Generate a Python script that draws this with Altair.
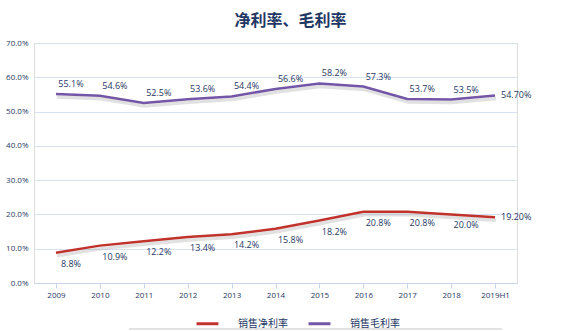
import altair as alt
import pandas as pd

years = ["2009", "2010", "2011", "2012", "2013", "2014", "2015", "2016", "2017", "2018", "2019H1"]
net_margin = [8.8, 10.9, 12.2, 13.4, 14.2, 15.8, 18.2, 20.8, 20.8, 20.0, 19.2]
gross_margin = [55.1, 54.6, 52.5, 53.6, 54.4, 56.6, 58.2, 57.3, 53.7, 53.5, 54.7]
net_labels = ["8.8%", "10.9%", "12.2%", "13.4%", "14.2%", "15.8%", "18.2%", "20.8%", "20.8%", "20.0%", "19.20%"]
gross_labels = ["55.1%", "54.6%", "52.5%", "53.6%", "54.4%", "56.6%", "58.2%", "57.3%", "53.7%", "53.5%", "54.70%"]
series_names = ["销售净利率", "销售毛利率"]
series_colors = ["#c0322c", "#7356a6"]

rows = []
for i, y in enumerate(years):
    rows.append({"year": y, "series": series_names[0], "value": net_margin[i] / 100,
                 "label": net_labels[i], "pos": "last" if i == len(years) - 1 else "below"})
    rows.append({"year": y, "series": series_names[1], "value": gross_margin[i] / 100,
                 "label": gross_labels[i], "pos": "last" if i == len(years) - 1 else "above"})
df = pd.DataFrame(rows)

TXT = "#1f3864"
FONT = "Open Sans"

x_enc = alt.X("year:N", sort=years, title=None,
              scale=alt.Scale(paddingInner=0, paddingOuter=0),
              axis=alt.Axis(labelAngle=0, labelFontSize=8, labelColor=TXT, labelFont=FONT,
                            domainColor="#c9d6ea", tickColor="#c9d6ea", tickSize=5,
                            bandPosition=0, labelPadding=3, grid=False))
y_enc = alt.Y("value:Q", title=None,
              scale=alt.Scale(domain=[0, 0.7]),
              axis=alt.Axis(format=".1%", values=[0, 0.1, 0.2, 0.3, 0.4, 0.5, 0.6, 0.7],
                            labelFontSize=8, labelColor=TXT, labelFont=FONT, domain=False,
                            ticks=False, labelPadding=6, gridColor="#d6e1f1", gridWidth=1))

base = alt.Chart(df)

shadow = base.mark_line(strokeWidth=3.5, color="#a8a8a8", opacity=0.35, yOffset=3, xOffset=1).encode(
    x=x_enc, y=y_enc, detail="series:N")

lines = base.mark_line(strokeWidth=2.5).encode(
    x=x_enc, y=y_enc,
    color=alt.Color("series:N", scale=alt.Scale(domain=series_names, range=series_colors),
                    legend=alt.Legend(title=None, orient="none", legendX=161, legendY=268,
                                      direction="horizontal", symbolType="stroke",
                                      symbolStrokeWidth=3, symbolSize=480, labelFontSize=10,
                                      labelColor=TXT, labelFont="Noto Sans CJK SC",
                                      labelOffset=18, columnPadding=14)))

lab_below = base.transform_filter(alt.datum.pos == "below").mark_text(
    fontSize=9, color=TXT, font=FONT, dx=15, dy=11).encode(x=x_enc, y=y_enc, text="label:N")
lab_above = base.transform_filter(alt.datum.pos == "above").mark_text(
    fontSize=9, color=TXT, font=FONT, dx=15, dy=-10).encode(x=x_enc, y=y_enc, text="label:N")
lab_last = base.transform_filter(alt.datum.pos == "last").mark_text(
    fontSize=9, color=TXT, font=FONT, dx=6, align="left").encode(x=x_enc, y=y_enc, text="label:N")

bottom_rule = alt.Chart(pd.DataFrame({"k": [0]})).mark_rule(color="#d9d9d9", strokeWidth=1.5).encode(
    x=alt.value(95), x2=alt.value(468), y=alt.value(286))

chart = alt.layer(shadow, lines, lab_below, lab_above, lab_last, bottom_rule).properties(
    width=483, height=240,
    autosize=alt.AutoSizeParams(type="none"),
    padding={"left": 34, "top": 43, "right": 63, "bottom": 48},
    title=alt.TitleParams("净利率、毛利率", fontSize=16, fontWeight="bold", color=TXT,
                          font="Noto Sans CJK SC", anchor="middle", dx=15, offset=10),
).configure_view(stroke=None).configure(background="white")

chart.save("out.html", embed_options={"renderer": "svg", "actions": False})
